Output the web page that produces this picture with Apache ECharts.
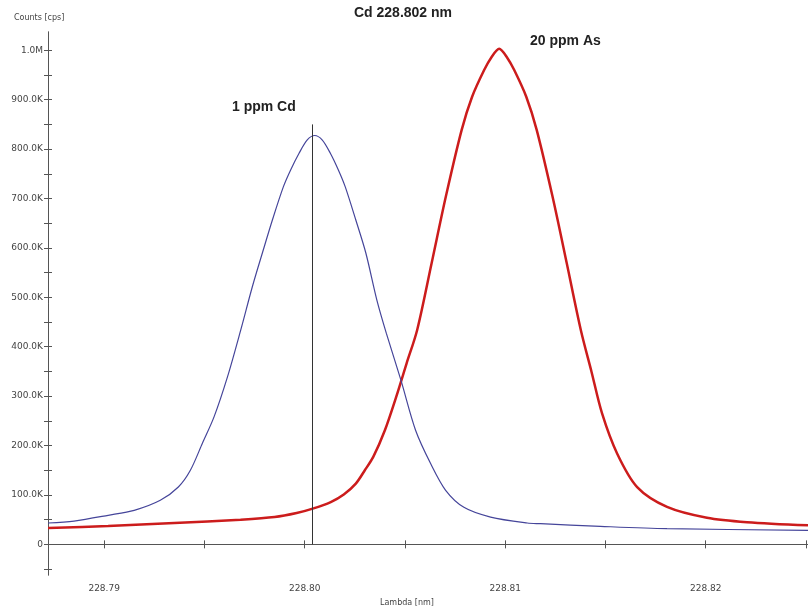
<!DOCTYPE html>
<html>
<head>
<meta charset="utf-8">
<script src="https://cdn.jsdelivr.net/npm/echarts@6/dist/echarts.min.js"></script>
<style>
  html, body { margin: 0; padding: 0; background: #ffffff; }
  #chart { width: 808px; height: 612px; }
</style>
</head>
<body>
<div id="chart"></div>
<script>
// Scan of the Cd 228.802 nm line: 1 ppm Cd against a 20 ppm As interference
const cdWavelength = [228.7872, 228.7885, 228.7902, 228.7915, 228.7928, 228.7937, 228.7943, 228.7949,
  228.79548, 228.79615, 228.79681, 228.79739, 228.79789, 228.79839, 228.79894, 228.7993, 228.79972,
  228.80013, 228.8005, 228.80087, 228.80128, 228.80168, 228.80202, 228.80255, 228.80305, 228.8036,
  228.80407, 228.8048, 228.80553, 228.80628, 228.80703, 228.80794, 228.80927, 228.8111, 228.81176,
  228.81475, 228.81807, 228.8251];
const cdCounts = [43200, 47200, 58800, 68900, 89200, 116100, 150000, 204700,
  258000, 339000, 433600, 521400, 589700, 656500, 724000, 757800, 791600,
  818600, 827500, 818600, 791600, 757800, 724000, 656500, 589700, 494400,
  427500, 332300, 231000, 163500, 109400, 75000, 55300, 43200, 41900,
  36500, 31800, 28400];

const asWavelength = [228.7872, 228.7902, 228.7935, 228.7968, 228.7985, 228.7996, 228.8004, 228.8013,
  228.80195, 228.80255, 228.8030, 228.80342, 228.8040, 228.80456, 228.80508, 228.80561, 228.80633,
  228.80704, 228.80783, 228.80835, 228.80895, 228.8093, 228.8097, 228.8101, 228.81045, 228.81105,
  228.81157, 228.81236, 228.81307, 228.81377, 228.8143, 228.81483, 228.81558, 228.81658, 228.81807,
  228.82006, 228.82206, 228.8251];
const asCounts = [33000, 37100, 43200, 50000, 55300, 63400, 72300, 85700,
  101000, 123000, 150000, 177000, 231000, 298000, 366000, 434000, 569000,
  704000, 839000, 906000, 960000, 985000, 1003000, 985000, 960000, 906000,
  839000, 704000, 569000, 434000, 350000, 265000, 184000, 116000, 76000,
  54000, 45000, 38500];

// Peak marker for the Cd line
const cdMarker = 228.8004;
const cdMarkerTop = 850000;

// Axis ticks and labels
const xLabelValues = [228.79, 228.80, 228.81, 228.82];
const xTickValues = [228.79, 228.795, 228.80, 228.805, 228.81, 228.815, 228.82, 228.825];
const yLabelValues = [0, 100000, 200000, 300000, 400000, 500000, 600000, 700000, 800000, 900000, 1000000];
const yTickValues = [-50000, 0, 50000, 100000, 150000, 200000, 250000, 300000, 350000, 400000, 450000,
  500000, 550000, 600000, 650000, 700000, 750000, 800000, 850000, 900000, 950000, 1000000];

const xMin = 228.7872, xMax = 228.8251;
const yMin = -62000, yMax = 1037000;

const axisColor = '#555555';
const labelFont = { fontFamily: 'DejaVu Sans', fontSize: 9, color: '#444444' };
const hiddenLabel = { fontFamily: 'DejaVu Sans', fontSize: 9, color: 'rgba(0,0,0,0)' };
const plotLeft = 48, plotRight = 0, plotWidth = 808 - plotLeft - plotRight;

function zip(xs, ys) { return xs.map((x, i) => [x, ys[i]]); }

function fmtCounts(v) {
  if (v === 0) return '0';
  if (v >= 1000000) return (v / 1000000).toFixed(1) + 'M';
  return (v / 1000).toFixed(1) + 'K';
}

const chart = echarts.init(document.getElementById('chart'), null, { renderer: 'canvas' });

// Each axis is drawn twice: the labelled copy with ticks on the outer side, and a
// mirror copy (opposite position, shifted onto the same line, labels transparent)
// whose ticks point the other way, so the ticks cross the axis line.
const tickStyle = { color: axisColor, width: 1 };

chart.setOption({
  animation: false,
  backgroundColor: '#ffffff',
  grid: { left: plotLeft, right: plotRight, top: 32, bottom: 37, containLabel: false },
  xAxis: [
    {
      type: 'value', min: xMin, max: xMax, position: 'bottom',
      axisLine: { show: true, onZero: true, lineStyle: { color: axisColor, width: 1 } },
      axisTick: { show: true, length: 4, customValues: xTickValues, lineStyle: tickStyle },
      axisLabel: Object.assign({ show: true, margin: 9, customValues: xLabelValues,
        formatter: v => v.toFixed(2) }, labelFont),
      splitLine: { show: false }
    },
    {
      type: 'value', min: xMin, max: xMax, position: 'top',
      axisLine: { show: true, onZero: true, lineStyle: { color: axisColor, width: 1 } },
      axisTick: { show: true, length: 4, customValues: xTickValues, lineStyle: tickStyle },
      axisLabel: Object.assign({ show: true, customValues: xLabelValues,
        formatter: v => v.toFixed(2) }, hiddenLabel),
      splitLine: { show: false }
    }
  ],
  yAxis: [
    {
      type: 'value', min: yMin, max: yMax, position: 'left',
      axisLine: { show: true, onZero: false, lineStyle: { color: axisColor, width: 1 } },
      axisTick: { show: true, length: 4, customValues: yTickValues, lineStyle: tickStyle },
      axisLabel: Object.assign({ show: true, margin: 5, customValues: yLabelValues,
        formatter: fmtCounts }, labelFont),
      splitLine: { show: false }
    },
    {
      type: 'value', min: yMin, max: yMax, position: 'right', offset: -plotWidth,
      axisLine: { show: true, onZero: false, lineStyle: { color: axisColor, width: 1 } },
      axisTick: { show: true, length: 4, customValues: yTickValues, lineStyle: tickStyle },
      axisLabel: Object.assign({ show: true, customValues: yLabelValues,
        formatter: fmtCounts }, hiddenLabel),
      splitLine: { show: false }
    }
  ],
  series: [
    {
      name: '1 ppm Cd', type: 'line', xAxisIndex: 0, yAxisIndex: 0,
      data: zip(cdWavelength, cdCounts),
      showSymbol: false, smooth: 0.3,
      lineStyle: { color: '#45459a', width: 1.2 },
      z: 3,
      markLine: {
        silent: true, symbol: 'none', label: { show: false },
        lineStyle: { color: '#333333', width: 1, type: 'solid' },
        data: [[{ coord: [cdMarker, cdMarkerTop] }, { coord: [cdMarker, 0] }]]
      }
    },
    {
      name: '20 ppm As', type: 'line', xAxisIndex: 1, yAxisIndex: 1,
      data: zip(asWavelength, asCounts),
      showSymbol: false, smooth: 0.3,
      lineStyle: { color: '#cc1c1c', width: 2.5 },
      z: 2
    }
  ],
  graphic: [
    { type: 'text', left: 14, top: 14,
      style: { text: 'Counts [cps]', fontFamily: 'DejaVu Sans', fontSize: 8, fill: '#444444' } },
    { type: 'text', left: 380, top: 599,
      style: { text: 'Lambda [nm]', fontFamily: 'DejaVu Sans', fontSize: 8, fill: '#444444' } },
    { type: 'text', left: 354, top: 6,
      style: { text: 'Cd 228.802 nm', fontFamily: 'Liberation Sans', fontWeight: 'bold', fontSize: 14, fill: '#222222' } },
    { type: 'text', left: 232, top: 100,
      style: { text: '1 ppm Cd', fontFamily: 'Liberation Sans', fontWeight: 'bold', fontSize: 14, fill: '#222222' } },
    { type: 'text', left: 530, top: 34,
      style: { text: '20 ppm As', fontFamily: 'Liberation Sans', fontWeight: 'bold', fontSize: 14, fill: '#222222' } }
  ]
});
</script>
</body>
</html>
